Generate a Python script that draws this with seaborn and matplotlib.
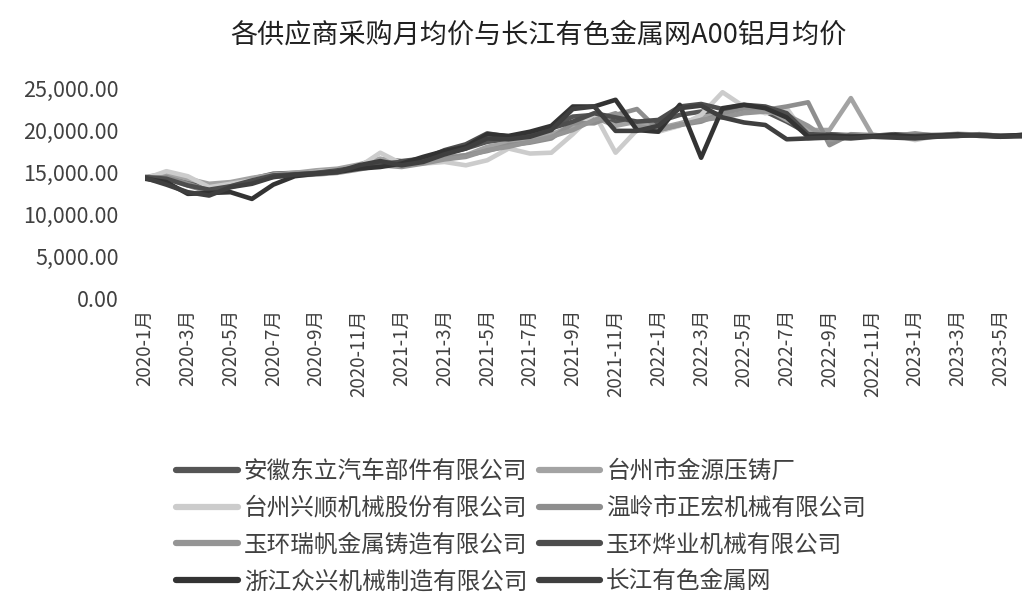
import pandas as pd
import numpy as np
import matplotlib
matplotlib.use('Agg')
import matplotlib.pyplot as plt
import seaborn as sns

# months 2020-1 .. 2023-6
months = [f'{y}-{m}月' for y in range(2020, 2024) for m in range(1, 13)][:42]

suppliers = ['安徽东立汽车部件有限公司', '台州市金源压铸厂', '台州兴顺机械股份有限公司',
             '温岭市正宏机械有限公司', '玉环瑞帆金属铸造有限公司', '玉环烨业机械有限公司',
             '浙江众兴机械制造有限公司', '长江有色金属网']

# values in thousand yuan/ton
anhui_dongli = [14.3, 14.5, 13.8, 13.0, 13.4, 14.2, 14.8, 14.9, 15.0, 15.3, 15.8, 16.5,
                16.3, 16.6, 17.2, 17.8, 18.6, 18.9, 19.4, 20.4, 21.6, 21.8, 21.0, 20.8,
                21.0, 21.8, 22.2, 21.8, 22.5, 22.2, 21.0, 19.6, 19.5, 19.4, 19.3, 19.5,
                19.4, 19.3, 19.5, 19.4, 19.3, 19.4]
taizhou_jinyuan = [14.4, 14.8, 14.2, 13.6, 13.8, 14.3, 14.7, 14.9, 15.2, 15.4, 15.9, 16.6,
                   16.0, 16.2, 16.8, 17.0, 18.0, 18.5, 18.8, 19.5, 20.5, 21.5, 20.5, 21.0,
                   20.2, 20.8, 21.5, 22.0, 22.5, 22.6, 21.2, 20.0, 20.0, 23.8, 19.4, 19.3,
                   19.5, 19.4, 19.3, 19.5, 19.3, 19.2]
taizhou_xingshun = [14.2, 15.1, 14.5, 13.2, 13.6, 14.0, 14.5, 14.6, 15.0, 15.2, 15.6, 17.3,
                    16.0, 16.0, 16.2, 15.8, 16.4, 17.8, 17.2, 17.3, 19.5, 22.0, 17.3, 20.0,
                    19.8, 20.5, 21.8, 24.5, 22.8, 22.0, 22.6, 19.0, 19.3, 19.5, 19.2, 19.4,
                    18.8, 19.3, 19.6, 19.4, 19.3, 19.4]
wenling_zhenghong = [14.3, 14.4, 13.6, 12.8, 13.2, 13.8, 14.5, 14.8, 14.9, 15.1, 15.5, 16.2,
                     15.9, 16.3, 16.6, 17.0, 17.5, 18.2, 18.5, 19.0, 20.8, 20.8, 21.8, 22.5,
                     20.0, 20.6, 21.0, 22.0, 22.6, 22.4, 22.8, 23.3, 18.2, 19.5, 19.4, 19.3,
                     19.6, 19.3, 19.4, 19.5, 19.3, 19.4]
yuhuan_ruifan = [14.3, 14.2, 13.4, 12.6, 13.3, 13.9, 14.4, 14.6, 14.7, 14.9, 15.3, 15.8,
                 15.6, 16.0, 16.5, 16.8, 17.6, 18.0, 18.6, 19.2, 20.0, 21.2, 22.0, 20.5,
                 20.0, 20.6, 21.2, 21.5, 22.0, 22.2, 21.8, 20.5, 18.8, 19.2, 19.4, 19.3,
                 19.4, 19.2, 19.3, 19.5, 19.2, 19.3]
yuhuan_yeye = [14.4, 14.2, 13.4, 12.9, 13.3, 14.0, 14.6, 14.7, 14.9, 15.2, 15.6, 16.0,
               16.2, 16.5, 17.6, 18.3, 19.6, 19.2, 19.3, 20.2, 21.0, 22.0, 21.5, 21.0,
               21.2, 22.8, 23.1, 22.5, 23.0, 22.8, 22.0, 19.5, 19.4, 19.3, 19.2, 19.3,
               19.3, 19.4, 19.5, 19.3, 19.2, 19.4]
zhejiang_zhongxing = [14.2, 13.8, 12.4, 12.5, 12.6, 11.8, 13.5, 14.5, 14.8, 15.0, 15.4, 15.6,
                      16.0, 16.8, 17.5, 18.0, 19.5, 19.3, 19.8, 20.5, 22.8, 22.8, 23.6, 20.0,
                      19.8, 23.0, 16.7, 22.6, 23.0, 22.6, 21.5, 19.2, 19.3, 19.2, 19.3, 19.4,
                      19.2, 19.3, 19.4, 19.4, 19.3, 19.4]
changjiang = [14.3, 13.5, 12.6, 12.2, 13.2, 13.6, 14.4, 14.7, 14.8, 15.0, 15.8, 16.3,
              15.8, 16.2, 17.1, 17.8, 19.0, 18.9, 19.2, 20.0, 22.5, 22.8, 19.9, 19.9,
              20.5, 22.6, 22.9, 21.5, 20.9, 20.6, 18.9, 19.0, 19.1, 19.0, 19.2, 19.1,
              19.0, 19.2, 19.3, 19.4, 19.2, 19.3]

series = [anhui_dongli, taizhou_jinyuan, taizhou_xingshun, wenling_zhenghong,
          yuhuan_ruifan, yuhuan_yeye, zhejiang_zhongxing, changjiang]

rows = []
for name, vals in zip(suppliers, series):
    for i, v in enumerate(vals):
        rows.append({'idx': i, 'month': months[i], 'supplier': name, 'price': v * 1000})
df = pd.DataFrame(rows)

sns.set_style('white')
plt.rcParams['font.family'] = ['Noto Sans CJK SC', 'DejaVu Sans']

colors = ['#555555', '#a3a3a3', '#cccccc', '#8e8e8e', '#959595', '#4d4d4d', '#333333', '#3f3f3f']
palette = dict(zip(suppliers, colors))

fig = plt.figure(figsize=(10.26, 5.92), dpi=100)
ax = fig.add_axes([0.1413, 0.4966, 0.8548, 0.3547])
sns.lineplot(data=df, x='idx', y='price', hue='supplier', hue_order=suppliers,
             palette=palette, linewidth=3.3, ax=ax, legend=True)

ax.set_xlim(0, 41)
ax.set_ylim(0, 25000)
ax.set_yticks(range(0, 25001, 5000))
ax.set_yticklabels([f'{v:,.2f}' for v in range(0, 25001, 5000)], fontsize=15.5, color='#404040')
ax.set_xticks(range(0, 42, 2))
ax.set_xticklabels(months[::2], rotation=90, fontsize=13.5, color='#404040')
ax.tick_params(axis='y', length=0, pad=19)
ax.tick_params(axis='x', length=0, pad=8)
ax.set_xlabel('')
ax.set_ylabel('')
for s in ax.spines.values():
    s.set_visible(False)

fig.suptitle('各供应商采购月均价与长江有色金属网A00铝月均价', x=0.525, y=0.963,
             fontsize=19.5, color='#202020')

handles, labels = ax.get_legend_handles_labels()
ax.get_legend().remove()
order = [0, 2, 4, 6, 1, 3, 5, 7]
leg = fig.legend([handles[i] for i in order], [labels[i] for i in order], ncol=2,
                 loc='lower center', bbox_to_anchor=(0.508, -0.038), frameon=False,
                 fontsize=17, handlelength=2.6, handletextpad=0.25, columnspacing=0.5,
                 labelspacing=0.58)
for t in leg.get_texts():
    t.set_color('#404040')
for h in leg.get_lines():
    h.set_linewidth(4.5)

fig.savefig('out.png', dpi=100)
